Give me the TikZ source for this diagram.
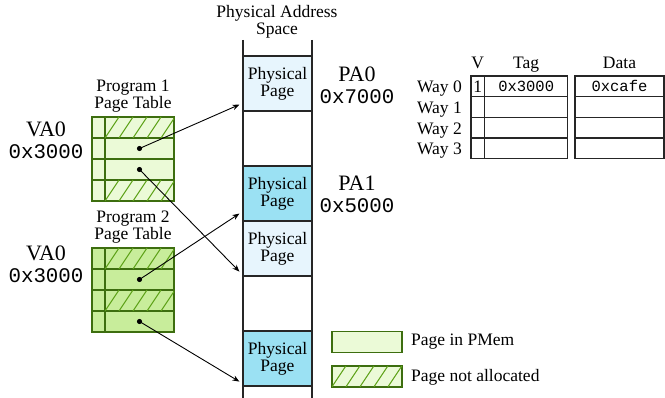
\documentclass[tikz,border=0pt]{standalone}
\usepackage{fontspec}
\setmainfont{Liberation Serif}
\setmonofont{Liberation Mono}
\usetikzlibrary{arrows.meta,calc}
\definecolor{lightpage}{HTML}{E7F5FD}
\definecolor{darkpage}{HTML}{9BE1F3}
\definecolor{ptlight}{HTML}{EBFAD7}
\definecolor{ptdark}{HTML}{C8ED9B}
\definecolor{ptborder}{HTML}{3D6E0F}
\definecolor{hatchc}{HTML}{5FA31A}
\definecolor{linec}{HTML}{262626}
\newcommand\myhatch[4]{%
  \begin{scope}
    \clip (#1,#2) rectangle (#3,#4);
    \foreach \k in {-1,...,6} {\draw[hatchc, line width=1pt] ({#1+\k*14},#4) -- ++(14,-21);}
  \end{scope}}
\begin{document}
\begin{tikzpicture}[x=1pt,y=-1pt,
  txt/.style={font=\fontsize{17.5}{17.2}\selectfont, inner sep=0, align=center},
  big/.style={font=\fontsize{22}{22}\selectfont, inner sep=0},
  bigtt/.style={font=\fontsize{20.8}{22}\selectfont\ttfamily, inner sep=0},
  ppage/.style={draw=linec, line width=1.2pt, minimum width=69, minimum height=55, inner sep=0, align=center, font=\fontsize{17.5}{17.2}\selectfont},
  ptl/.style={draw=ptborder, line width=1.1pt, minimum width=13, minimum height=21, inner sep=0},
  ptr/.style={draw=ptborder, line width=1.1pt, minimum width=69, minimum height=21, inner sep=0},
  cell/.style={draw=linec, line width=1.4pt, minimum height=20.7, inner sep=0, font=\fontsize{17.5}{15.7}\selectfont},
  dot/.style={fill=black},
  arr/.style={-{Stealth[length=7pt,width=5.5pt]}, line width=0.9pt}
]
\useasboundingbox (0,0) rectangle (665,398);

% Physical address space
\node[txt] (pastitle) at (277,22) {Physical Address\\Space};
\draw[linec, line width=1.2pt] (243,40) -- (243,398);
\draw[linec, line width=1.2pt] (312,40) -- (312,398);
\node[ppage, fill=lightpage] (pp1) at (277.5,83.5) {Physical\\Page};
\node[ppage, fill=darkpage] (pp2) at (277.5,193.5) {Physical\\Page};
\node[ppage, fill=lightpage] (pp3) at (277.5,248.5) {Physical\\Page};
\node[ppage, fill=darkpage] (pp4) at (277.5,358.5) {Physical\\Page};

\node[big] (pa0) at (357,74) {PA0};
\node[bigtt] (pa0v) at (357,97) {0x7000};
\node[big] (pa1) at (357,183) {PA1};
\node[bigtt] (pa1v) at (357,206) {0x5000};

% Program 1 page table
\node[txt] (pt1title) at (133,96) {Program 1\\Page Table};
\node[big] (va1) at (46,129) {VA0};
\node[bigtt] (va1v) at (46,152) {0x3000};
\foreach \i/\y in {1/127.5,2/148.5,3/169.5,4/190.5} {
  \node[ptl, fill=ptlight] (t1l\i) at (98.5,\y) {};
  \node[ptr, fill=ptlight] (t1r\i) at (139.5,\y) {};
}
\myhatch{105}{117}{174}{138}
\myhatch{105}{180}{174}{201}
\draw[ptborder, line width=1.1pt] (t1r1.north west) -- (t1r4.south west);

% Program 2 page table
\node[txt] (pt2title) at (133,227) {Program 2\\Page Table};
\node[big] (va2) at (46,253) {VA0};
\node[bigtt] (va2v) at (46,276) {0x3000};
\foreach \i/\y in {1/258.5,2/279.5,3/300.5,4/321.5} {
  \node[ptl, fill=ptdark] (t2l\i) at (98.5,\y) {};
  \node[ptr, fill=ptdark] (t2r\i) at (139.5,\y) {};
}
\myhatch{105}{248}{174}{269}
\myhatch{105}{290}{174}{311}
\draw[ptborder, line width=1.1pt] (t2r1.north west) -- (t2r4.south west);

% pointers
\fill[dot] (t1r2.center) circle (2.6);
\fill[dot] (t1r3.center) circle (2.6);
\fill[dot] (t2r2.center) circle (2.6);
\fill[dot] (t2r4.center) circle (2.6);
\draw[arr] (t1r2.center) -- ($(pp1.south west)+(-3,-7)$);
\draw[arr] (t1r3.center) -- ($(pp3.south west)+(-3,-5)$);
\draw[arr] (t2r2.center) -- ($(pp2.south west)+(-3,-8)$);
\draw[arr] (t2r4.center) -- ($(pp4.south west)+(-3,-5)$);

% cache
\node[txt, anchor=base] (hv) at (477.8,68.5) {V};
\node[txt, anchor=base] (htag) at (526.2,68.5) {Tag};
\node[txt, anchor=base] (hdata) at (619.5,68.5) {Data};
\foreach \i/\y in {0/86.35,1/107.05,2/127.75,3/148.45} {
  \node[txt, anchor=base east] (way\i) at (462,\y+6.3) {Way \i};
  \node[cell, minimum width=13.7] (cv\i) at (477.85,\y) {};
  \node[cell, minimum width=83] (ct\i) at (526.2,\y) {};
  \node[cell, minimum width=89] (cd\i) at (619.5,\y) {};
}
\node[txt] (v1) at (cv0) {1};
\node[txt, font=\fontsize{15.5}{15}\selectfont\ttfamily] (tag0) at (ct0) {0x3000};
\node[txt, font=\fontsize{15.5}{15}\selectfont\ttfamily] (data0) at (cd0) {0xcafe};

% legend
\node[draw=ptborder, line width=1.1pt, fill=ptlight, minimum width=70, minimum height=20.5, inner sep=0] (leg1) at (367,342) {};
\node[draw=ptborder, line width=1.1pt, fill=ptlight, minimum width=70, minimum height=20.5, inner sep=0] (leg2) at (367,376.5) {};
\myhatch{332}{366.25}{402}{386.75}
\draw[ptborder, line width=1.1pt] (leg2.north west) rectangle (leg2.south east);
\node[txt, anchor=west] (leg1t) at (411,342) {Page in PMem};
\node[txt, anchor=west] (leg2t) at (411,377) {Page not allocated};
\end{tikzpicture}
\end{document}
